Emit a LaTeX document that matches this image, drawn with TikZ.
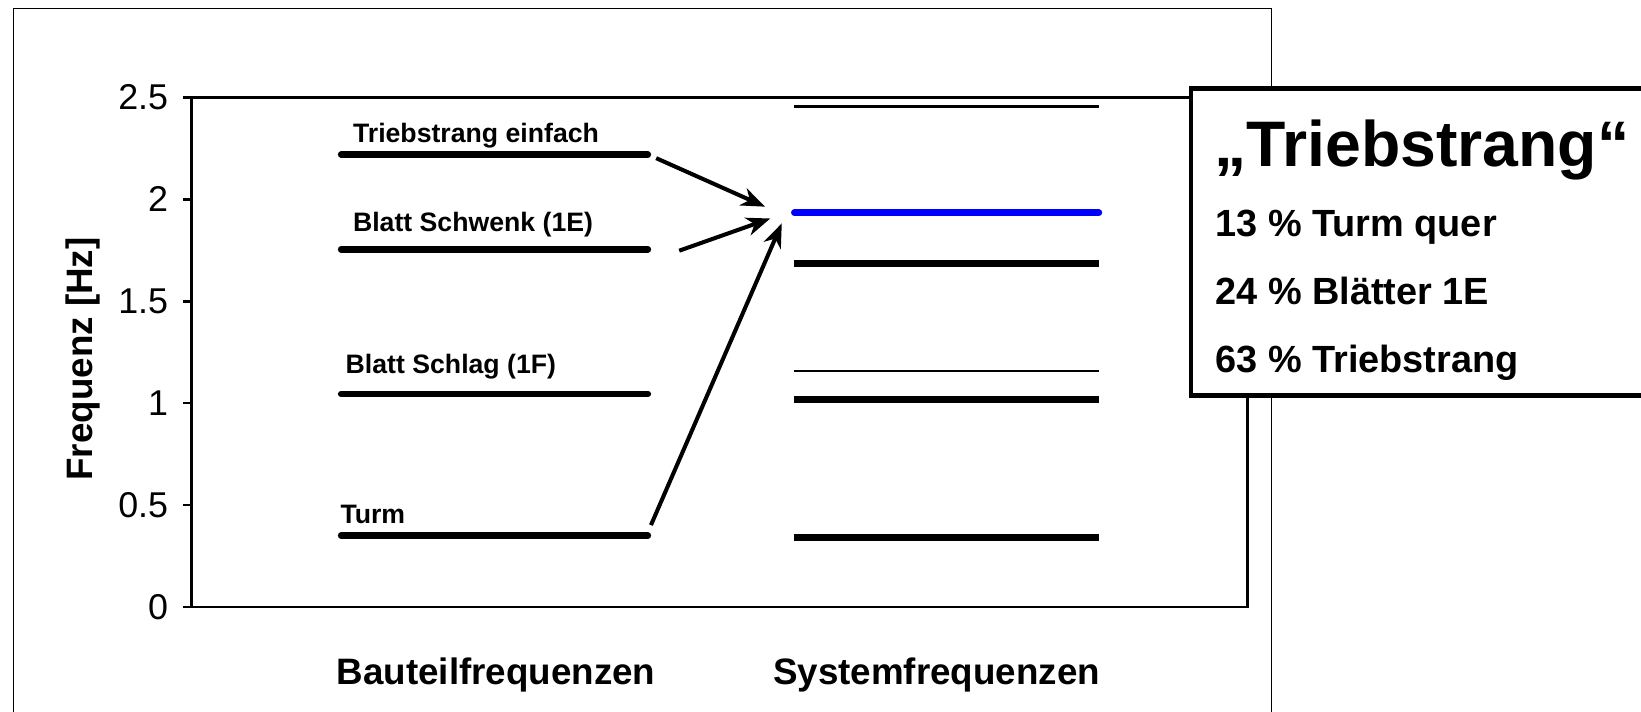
\documentclass[tikz,border=0pt]{standalone}
\usepackage{fontspec}
\setmainfont{Liberation Sans}
\usetikzlibrary{arrows.meta}

\begin{document}
\begin{tikzpicture}[x=0.02cm, y=0.02cm,
    achse/.style={line width=1.36pt},
    bauteil/.style={line width=3.6pt, line cap=round},
    sysdick/.style={line width=3.6pt},
    sysduenn/.style={line width=1.5pt},
    lbl/.style={font=\bfseries\fontsize{14.5}{17}\selectfont, inner sep=0pt, anchor=base west},
    boxtxt/.style={font=\bfseries\fontsize{20.6}{24}\selectfont, inner sep=0pt, anchor=base west},
    titel/.style={font=\bfseries\fontsize{20}{24}\selectfont, inner sep=0pt, anchor=base},
    pfeil/.style={line width=2.2pt, -{Stealth[length=13pt, width=10pt, inset=4pt]}}]
    \clip (0,0) rectangle (1568,680);
    % outer frame
    \draw[line width=0.6pt] (13,672) rectangle (1215,-20);
    \node[rotate=90, font=\bfseries\fontsize{20}{24}\selectfont] (ylabel) at (79,337) {Frequenz [Hz]};
    \node[titel] (bauteil) at (474,25.5) {Bauteilfrequenzen};
    \node[titel] (system) at (895,25.5) {Systemfrequenzen};

    \begin{scope}[shift={(183,100)}, y=3.896cm]
        \draw[achse] (0,0) rectangle (1009,2.5);
        \foreach \f [count=\i] in {0,0.5,1,1.5,2,2.5} {
            \draw[achse] (-8,\f) -- (0,\f);
            \node[anchor=east, inner sep=0pt, font=\fontsize{19.5}{22}\selectfont] (tick\i) at (-22,\f) {\f};
        }
        % Bauteilfrequenzen
        \draw[bauteil] (143,2.22) -- (436,2.22);
        \draw[bauteil] (143,1.755) -- (436,1.755);
        \draw[bauteil] (143,1.045) -- (436,1.045);
        \draw[bauteil] (143,0.35) -- (436,0.35);
        \node[lbl] (ts) at (154,2.28) {Triebstrang einfach};
        \node[lbl] (bs) at (154,1.842) {Blatt Schwenk (1E)};
        \node[lbl] (bf) at (147,1.147) {Blatt Schlag (1F)};
        \node[lbl] (tu) at (142,0.411) {Turm};
        % Systemfrequenzen
        \draw[sysduenn] (576,2.454) -- (867,2.454);
        \draw[line width=3.6pt, blue, line cap=round] (576,1.934) -- (867,1.934);
        \draw[sysdick] (576,1.686) -- (867,1.686);
        \draw[sysduenn] (576,1.158) -- (867,1.158);
        \draw[sysdick] (576,1.018) -- (867,1.018);
        \draw[sysdick] (576,0.340) -- (867,0.340);
        % arrows
        \coordinate (ts-ende) at (444,2.202);
        \coordinate (bs-ende) at (466,1.748);
        \coordinate (tu-ende) at (439,0.402);
        \coordinate (ziel1) at (548,1.964);
        \coordinate (ziel2) at (553,1.906);
        \coordinate (ziel3) at (564,1.882);
        \draw[pfeil] (ts-ende) -- (ziel1);
        \draw[pfeil] (bs-ende) -- (ziel2);
        \draw[pfeil] (tu-ende) -- (ziel3);
    \end{scope}

    % box
    \draw[line width=2.7pt, fill=white] (1138,302) rectangle (1620,595);
    \node[anchor=base west, inner sep=0pt, font=\bfseries\fontsize{35}{40}\selectfont] (kopf) at (1160,521) {„Triebstrang“};
    \node[boxtxt] (turm) at (1161,454) {13 \% Turm quer};
    \node[boxtxt] (blatt) at (1161,388.6) {24 \% Blätter 1E};
    \node[boxtxt] (trieb) at (1161,324) {63 \% Triebstrang};
\end{tikzpicture}
\end{document}
